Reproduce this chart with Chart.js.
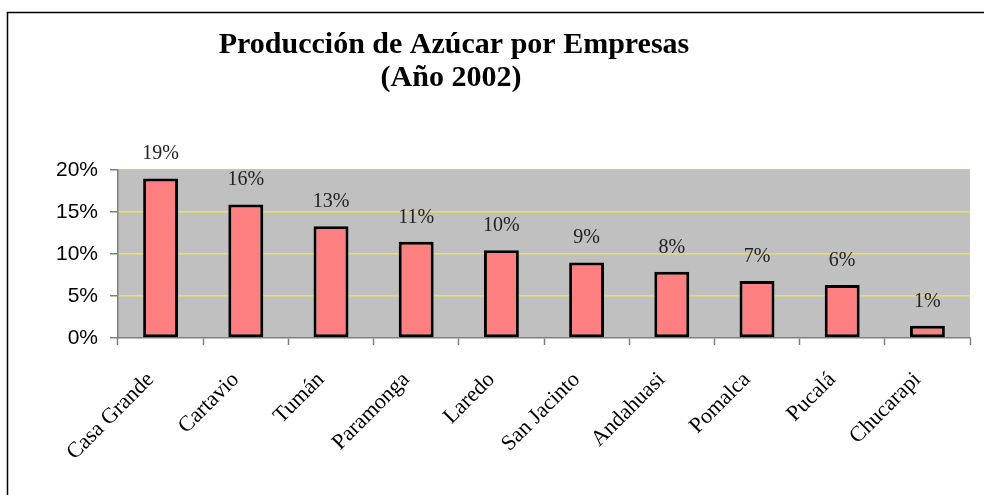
<!DOCTYPE html>
<html>
<head>
<meta charset="utf-8">
<script src="https://cdn.jsdelivr.net/npm/chart.js@4"></script>
<style>
html,body{margin:0;padding:0;background:#fff;}
#c{display:block;}
</style>
</head>
<body>
<canvas id="c" width="984" height="495"></canvas>
<script>
const categories = ["Casa Grande","Cartavio","Tumán","Paramonga","Laredo","San Jacinto","Andahuasi","Pomalca","Pucalá","Chucarapi"];
const shares = [19.0, 15.9, 13.3, 11.45, 10.45, 9.0, 7.9, 6.8, 6.3, 1.45];
const yTicks = [0, 5, 10, 15, 20];
const titleLines = ["Producción de Azúcar por Empresas", "(Año 2002)"];

const frameAndBg = {
  id: 'frameAndBg',
  beforeDraw(chart) {
    const ctx = chart.ctx, a = chart.chartArea;
    ctx.save();
    ctx.fillStyle = '#ffffff';
    ctx.fillRect(0, 0, chart.width, chart.height);
    ctx.fillStyle = '#c0c0c0';
    ctx.fillRect(a.left, a.top, a.right - a.left, a.bottom - a.top);
    ctx.strokeStyle = '#000';
    ctx.lineWidth = 1.5;
    ctx.beginPath();
    ctx.moveTo(7.5, chart.height);
    ctx.lineTo(7.5, 12.5);
    ctx.lineTo(chart.width, 12.5);
    ctx.stroke();
    ctx.restore();
  },
  afterDraw(chart) {
    const ctx = chart.ctx;
    ctx.save();
    ctx.fillStyle = '#000';
    ctx.font = 'bold 30px "Liberation Serif"';
    ctx.textAlign = 'center';
    ctx.textBaseline = 'alphabetic';
    ctx.fillText(titleLines[0], 454, 53);
    ctx.fillText(titleLines[1], 451, 86);
    ctx.restore();
  },
  afterDatasetsDraw(chart) {
    const ctx = chart.ctx;
    const meta = chart.getDatasetMeta(0);
    ctx.save();
    ctx.fillStyle = '#222';
    ctx.font = '20px "Liberation Serif"';
    ctx.textAlign = 'center';
    ctx.textBaseline = 'alphabetic';
    meta.data.forEach((bar, i) => {
      ctx.fillText(Math.round(shares[i]) + '%', bar.x, bar.y - 19);
    });
    ctx.restore();
  }
};

new Chart(document.getElementById('c'), {
  type: 'bar',
  data: {
    labels: categories,
    datasets: [{
      data: shares,
      backgroundColor: '#ff8080',
      borderColor: '#000000',
      borderWidth: 3,
      borderSkipped: false,
      barPercentage: 0.41,
      categoryPercentage: 1.0
    }]
  },
  options: {
    responsive: false,
    animation: false,
    devicePixelRatio: 1,
    layout: { padding: { left: 0, right: 14, top: 170, bottom: 0 } },
    plugins: { legend: { display: false }, title: { display: false }, tooltip: { enabled: false } },
    scales: {
      x: {
        offset: true,
        grid: { display: true, drawOnChartArea: false, offset: true, tickLength: 7, tickColor: '#808080', tickWidth: 1.5 },
        border: { display: true, color: '#808080', width: 1.5 },
        ticks: { color: '#000', font: { family: '"Liberation Serif"', size: 22 }, maxRotation: 45, minRotation: 45, padding: 22, labelOffset: -10, autoSkip: false },
        afterFit(scale) { scale.height = 157; }
      },
      y: {
        min: 0, max: 20,
        afterBuildTicks(scale) { scale.ticks = yTicks.map(v => ({ value: v })); },
        grid: {
          color: ctx => (ctx.tick && (ctx.tick.value === 0)) ? 'rgba(0,0,0,0)' : (ctx.tick && ctx.tick.value === 20 ? '#c8c8a8' : '#e6e64a'),
          lineWidth: 1.5,
          tickLength: 8,
          tickColor: '#808080',
          tickWidth: 1.5
        },
        border: { display: true, color: '#808080', width: 1.5 },
        ticks: { color: '#000', font: { family: '"Liberation Sans"', size: 21 }, padding: 12, callback: v => v + '%' },
        afterFit(scale) { scale.width = 118; }
      }
    }
  },
  plugins: [frameAndBg]
});
</script>
</body>
</html>
